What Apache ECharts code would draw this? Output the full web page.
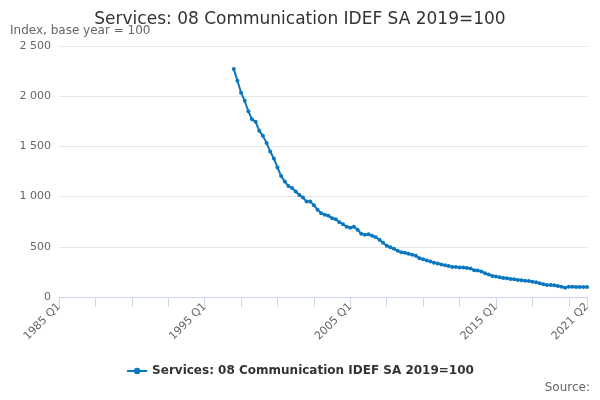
<!DOCTYPE html>
<html><head><meta charset="utf-8">
<script src="https://cdn.jsdelivr.net/npm/echarts@6/dist/echarts.min.js"></script>
<style>html,body{margin:0;padding:0;background:#fff}#c{width:600px;height:400px}</style>
</head><body><div id="c"></div>
<script>
const firstYear = 1985, lastYear = 2021, lastQuarter = 2;
const seriesName = 'Services: 08 Communication IDEF SA 2019=100';
const dataStartLabel = '1997 Q1';
const values = [2270,2155,2035,1955,1850,1770,1745,1655,1605,1535,1450,1380,1290,1205,1150,1105,1085,1050,1015,990,950,950,915,870,835,820,810,785,775,745,725,700,690,700,670,630,620,625,610,595,570,540,510,495,480,460,445,440,430,420,410,387,377,363,353,340,333,323,317,310,300,300,293,293,290,283,267,263,253,237,223,210,203,197,190,187,180,177,170,167,163,160,153,147,137,127,120,120,117,110,103,93,103,103,100,100,100,100];
const categories = [];
for (let y = firstYear; y <= lastYear; y++) for (let q = 1; q <= 4; q++) { if (y === lastYear && q > lastQuarter) break; categories.push(y + ' Q' + q); }
const start = categories.indexOf(dataStartLabel);
const seriesData = categories.map((c, i) => (i >= start ? values[i - start] : null));
const last = categories.length - 1;
const chart = echarts.init(document.getElementById('c'));
chart.setOption({
  animation: false,
  title: { text: seriesName, left: 'center', top: 6, textStyle: { fontSize: 17, fontWeight: 'normal', color: '#333', fontFamily: 'DejaVu Sans' } },
  graphic: [
    { type: 'text', left: 10, top: 25, style: { text: 'Index, base year = 100', fill: '#666', font: '12px DejaVu Sans' } },
    { type: 'text', right: 10, top: 382, style: { text: 'Source:', fill: '#666', font: '12px DejaVu Sans' } }
  ],
  legend: { bottom: 18, left: 'center', itemWidth: 20, itemHeight: 8, textStyle: { fontWeight: 'bold', color: '#333', fontSize: 12, fontFamily: 'DejaVu Sans' } },
  grid: { left: 59, right: 13, top: 46, bottom: 103 },
  xAxis: {
    type: 'category', data: categories, boundaryGap: false,
    axisLine: { lineStyle: { color: '#ccd6eb' } },
    axisTick: { length: 10, lineStyle: { color: '#ccd6eb' }, interval: (i) => i % 10 === 0 || i === last },
    axisLabel: { rotate: 45, color: '#666', fontSize: 11, fontFamily: 'DejaVu Sans', interval: (i) => i % 40 === 0 || i === last },
    splitLine: { show: false }
  },
  yAxis: {
    type: 'value', min: 0, max: 2500, interval: 500,
    axisLabel: { color: '#666', fontSize: 11, fontFamily: 'DejaVu Sans', formatter: (v) => String(v).replace(/\B(?=(\d{3})+(?!\d))/g, ' ') },
    splitLine: { lineStyle: { color: '#e6e6e6' } }
  },
  series: [{
    name: seriesName, type: 'line', data: seriesData, connectNulls: false,
    symbol: 'circle', symbolSize: 4, showAllSymbol: true,
    itemStyle: { color: '#0a77c0' }, lineStyle: { width: 2, color: '#0a77c0' }
  }]
});
</script></body></html>
